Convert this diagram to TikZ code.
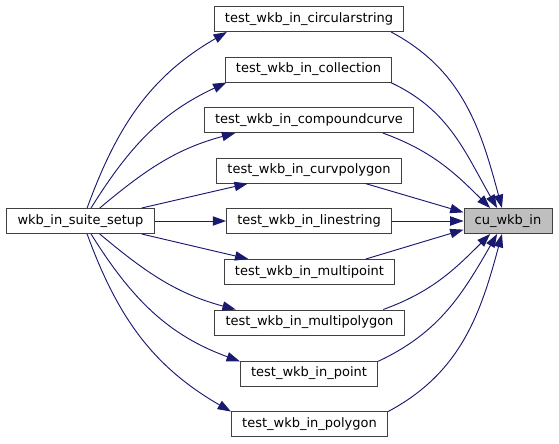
\documentclass[tikz,border=0pt]{standalone}
\usepackage{fontspec}
\setmainfont{DejaVu Sans}
\usetikzlibrary{arrows.meta}
\definecolor{edgeblue}{HTML}{191970}
\begin{document}
\begin{tikzpicture}[x=0.75pt,y=0.75pt,
   fn/.style={draw=black!75,line width=0.75pt,fill=white,minimum height=18.75pt,
     inner xsep=8pt,inner ysep=0pt,font=\fontsize{9.75pt}{11pt}\selectfont},
   cur/.style={fn,fill=black!25},
   call/.style={draw=edgeblue,line width=0.7pt,-{Triangle[length=10pt,width=7pt]}}]
   \useasboundingbox (0,0) rectangle (559,-443);
   % functions
   \node[fn] (setup) at (80.5,-221) {wkb\_in\_suite\_setup};
   \node[cur] (cu) at (508,-221) {cu\_wkb\_in};
   \node[fn] (circ) at (309,-19) {test\_wkb\_in\_circularstring};
   \node[fn] (coll) at (308.5,-69.5) {test\_wkb\_in\_collection};
   \node[fn] (comp) at (309,-120) {test\_wkb\_in\_compoundcurve};
   \node[fn] (curv) at (309,-170.5) {test\_wkb\_in\_curvpolygon};
   \node[fn] (line) at (309,-221) {test\_wkb\_in\_linestring};
   \node[fn] (mpt) at (309.5,-272) {test\_wkb\_in\_multipoint};
   \node[fn] (mpoly) at (309.5,-322.5) {test\_wkb\_in\_multipolygon};
   \node[fn] (point) at (309,-373.5) {test\_wkb\_in\_point};
   \node[fn] (poly) at (309.5,-424) {test\_wkb\_in\_polygon};
   % calls from the suite setup
   \draw[call] (setup.63) to[out=70,in=210] (circ.189);
   \draw[call] (setup.51) to[out=58,in=205] (coll.189);
   \draw[call] (setup.34) to[out=40,in=195] (comp.190);
   \draw[call] (setup.12) -- (curv.192);
   \draw[call] (setup) -- (line);
   \draw[call] (setup.-12) -- (mpt.168);
   \draw[call] (setup.-34) to[out=-40,in=165] (mpoly.170);
   \draw[call] (setup.-51) to[out=-58,in=160] (point.170);
   \draw[call] (setup.-63) to[out=-70,in=150] (poly.171);
   % calls into cu_wkb_in
   \draw[call] (circ.-9) to[out=-28,in=105] (cu.115);
   \draw[call] (coll.-9) to[out=-25,in=120] (cu.130);
   \draw[call] (comp.-10) to[out=-20,in=135] (cu.144);
   \draw[call] (curv.-13) -- (cu.169);
   \draw[call] (line) -- (cu);
   \draw[call] (mpt.13) -- (cu.191);
   \draw[call] (mpoly.10) to[out=20,in=225] (cu.216);
   \draw[call] (point.10) to[out=25,in=240] (cu.230);
   \draw[call] (poly.9) to[out=28,in=255] (cu.245);
\end{tikzpicture}
\end{document}
